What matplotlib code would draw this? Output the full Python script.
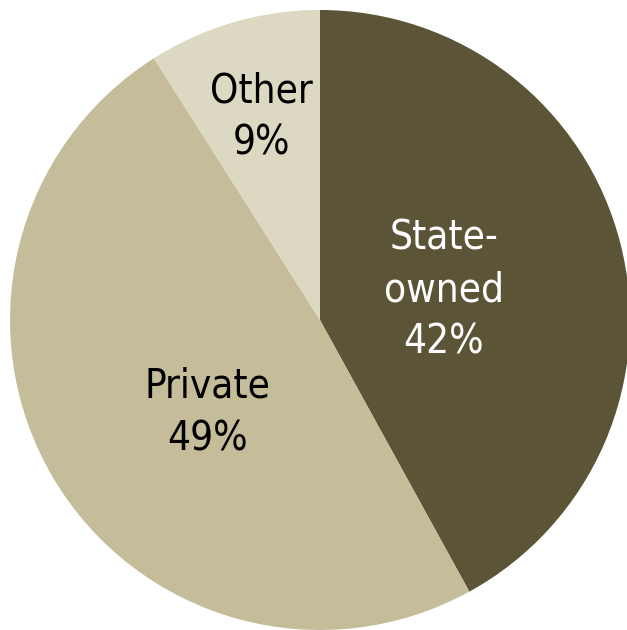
import matplotlib
matplotlib.use("Agg")
import matplotlib.pyplot as plt
import numpy as np

labels = ["State-\nowned", "Private", "Other"]
values = [42, 49, 9]
colors = ["#5b5436", "#c5bd99", "#ddd8c2"]
text_colors = ["white", "black", "black"]
label_radius = [0.41, 0.47, 0.68]
angle_nudge = [-1, 9, 0]

plt.rcParams['font.family'] = ['DejaVu Sans']

fig = plt.figure(figsize=(6.27, 6.30), dpi=100)
ax = fig.add_axes([0, 0, 1, 1])

cx, cy, R = 320, 310, 310
wedges, _ = ax.pie(values, colors=colors, startangle=90, counterclock=False,
                   center=(cx, cy), radius=R, frame=True,
                   wedgeprops=dict(linewidth=0))
ax.set_xlim(0, 627)
ax.set_ylim(0, 630)
ax.set_aspect('equal')
ax.axis('off')

for w, lab, v, tc, rf, dn in zip(wedges, labels, values, text_colors, label_radius, angle_nudge):
    ang = np.deg2rad((w.theta1 + w.theta2) / 2 + dn)
    x = cx + rf * R * np.cos(ang)
    y = cy + rf * R * np.sin(ang)
    ax.text(x, y, f"{lab}\n{v}%", ha='center', va='center', color=tc,
            fontsize=29, linespacing=1.4, fontstretch='condensed',
            fontweight='medium')

fig.savefig("out.png", dpi=100)
